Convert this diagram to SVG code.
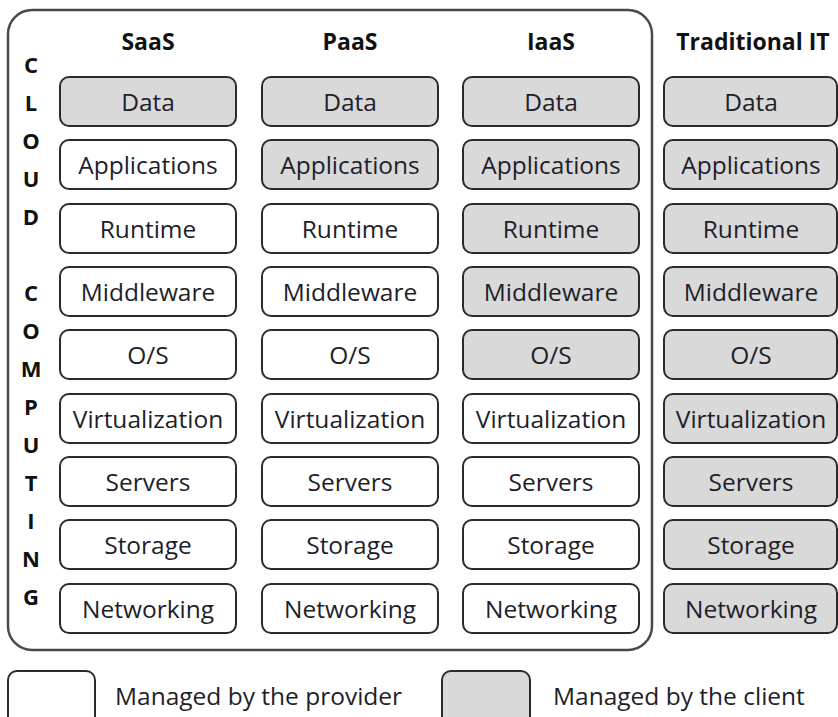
<svg xmlns="http://www.w3.org/2000/svg" width="838" height="717" viewBox="0 0 838 717">
<style>
.b{stroke:#2b2b2b;stroke-width:2;fill:#ffffff}
.g{fill:#d9d9d9}
.t{font-family:"Open Sans","Noto Sans",sans-serif;font-size:24.5px;fill:#1e1e2a;text-anchor:middle}
.h{font-family:"Open Sans","Noto Sans",sans-serif;font-size:23px;font-weight:bold;fill:#111;text-anchor:middle}
.v{font-family:"Open Sans","Noto Sans",sans-serif;font-size:22px;font-weight:bold;fill:#111;text-anchor:middle}
.l{font-family:"Open Sans","Noto Sans",sans-serif;font-size:24.5px;fill:#1e1e2a}
</style>
<rect width="838" height="717" fill="#ffffff"/>
<g id="cloud-frame">
<rect x="8" y="10" width="644" height="640" rx="24" fill="none" stroke="#4a4a4a" stroke-width="2.5"/>
</g>
<g id="vertical-label">
<text class="v" x="31" y="73">C</text>
<text class="v" x="31" y="111">L</text>
<text class="v" x="31" y="149">O</text>
<text class="v" x="31" y="187">U</text>
<text class="v" x="31" y="225">D</text>
<text class="v" x="31" y="301">C</text>
<text class="v" x="31" y="339">O</text>
<text class="v" x="31" y="377">M</text>
<text class="v" x="31" y="415">P</text>
<text class="v" x="31" y="453">U</text>
<text class="v" x="31" y="491">T</text>
<text class="v" x="31" y="529">I</text>
<text class="v" x="31" y="567">N</text>
<text class="v" x="31" y="605">G</text>
</g>
<g id="headers">
<text class="h" x="148" y="50">SaaS</text>
<text class="h" x="350" y="50">PaaS</text>
<text class="h" x="551" y="50">IaaS</text>
<text class="h" x="753" y="50">Traditional IT</text>
</g>
<g id="saas">
<rect class="b g" x="60" y="77" width="176" height="49" rx="9"/><text class="t" x="148" y="111">Data</text>
<rect class="b" x="60" y="140" width="176" height="49" rx="9"/><text class="t" x="148" y="174">Applications</text>
<rect class="b" x="60" y="204" width="176" height="49" rx="9"/><text class="t" x="148" y="238">Runtime</text>
<rect class="b" x="60" y="267" width="176" height="49" rx="9"/><text class="t" x="148" y="301">Middleware</text>
<rect class="b" x="60" y="330" width="176" height="49" rx="9"/><text class="t" x="148" y="364">O/S</text>
<rect class="b" x="60" y="394" width="176" height="49" rx="9"/><text class="t" x="148" y="428">Virtualization</text>
<rect class="b" x="60" y="457" width="176" height="49" rx="9"/><text class="t" x="148" y="491">Servers</text>
<rect class="b" x="60" y="520" width="176" height="49" rx="9"/><text class="t" x="148" y="554">Storage</text>
<rect class="b" x="60" y="584" width="176" height="49" rx="9"/><text class="t" x="148" y="618">Networking</text>
</g>
<g id="paas">
<rect class="b g" x="262" y="77" width="176" height="49" rx="9"/><text class="t" x="350" y="111">Data</text>
<rect class="b g" x="262" y="140" width="176" height="49" rx="9"/><text class="t" x="350" y="174">Applications</text>
<rect class="b" x="262" y="204" width="176" height="49" rx="9"/><text class="t" x="350" y="238">Runtime</text>
<rect class="b" x="262" y="267" width="176" height="49" rx="9"/><text class="t" x="350" y="301">Middleware</text>
<rect class="b" x="262" y="330" width="176" height="49" rx="9"/><text class="t" x="350" y="364">O/S</text>
<rect class="b" x="262" y="394" width="176" height="49" rx="9"/><text class="t" x="350" y="428">Virtualization</text>
<rect class="b" x="262" y="457" width="176" height="49" rx="9"/><text class="t" x="350" y="491">Servers</text>
<rect class="b" x="262" y="520" width="176" height="49" rx="9"/><text class="t" x="350" y="554">Storage</text>
<rect class="b" x="262" y="584" width="176" height="49" rx="9"/><text class="t" x="350" y="618">Networking</text>
</g>
<g id="iaas">
<rect class="b g" x="463" y="77" width="176" height="49" rx="9"/><text class="t" x="551" y="111">Data</text>
<rect class="b g" x="463" y="140" width="176" height="49" rx="9"/><text class="t" x="551" y="174">Applications</text>
<rect class="b g" x="463" y="204" width="176" height="49" rx="9"/><text class="t" x="551" y="238">Runtime</text>
<rect class="b g" x="463" y="267" width="176" height="49" rx="9"/><text class="t" x="551" y="301">Middleware</text>
<rect class="b g" x="463" y="330" width="176" height="49" rx="9"/><text class="t" x="551" y="364">O/S</text>
<rect class="b" x="463" y="394" width="176" height="49" rx="9"/><text class="t" x="551" y="428">Virtualization</text>
<rect class="b" x="463" y="457" width="176" height="49" rx="9"/><text class="t" x="551" y="491">Servers</text>
<rect class="b" x="463" y="520" width="176" height="49" rx="9"/><text class="t" x="551" y="554">Storage</text>
<rect class="b" x="463" y="584" width="176" height="49" rx="9"/><text class="t" x="551" y="618">Networking</text>
</g>
<g id="traditional-it">
<rect class="b g" x="664" y="77" width="173" height="49" rx="9"/><text class="t" x="751" y="111">Data</text>
<rect class="b g" x="664" y="140" width="173" height="49" rx="9"/><text class="t" x="751" y="174">Applications</text>
<rect class="b g" x="664" y="204" width="173" height="49" rx="9"/><text class="t" x="751" y="238">Runtime</text>
<rect class="b g" x="664" y="267" width="173" height="49" rx="9"/><text class="t" x="751" y="301">Middleware</text>
<rect class="b g" x="664" y="330" width="173" height="49" rx="9"/><text class="t" x="751" y="364">O/S</text>
<rect class="b g" x="664" y="394" width="173" height="49" rx="9"/><text class="t" x="751" y="428">Virtualization</text>
<rect class="b g" x="664" y="457" width="173" height="49" rx="9"/><text class="t" x="751" y="491">Servers</text>
<rect class="b g" x="664" y="520" width="173" height="49" rx="9"/><text class="t" x="751" y="554">Storage</text>
<rect class="b g" x="664" y="584" width="173" height="49" rx="9"/><text class="t" x="751" y="618">Networking</text>
</g>
<g id="legend">
<rect class="b" x="8" y="671" width="87" height="60" rx="9"/>
<text class="l" x="115" y="705">Managed by the provider</text>
<rect class="b g" x="442" y="671" width="88" height="60" rx="9"/>
<text class="l" x="553" y="705">Managed by the client</text>
</g>
</svg>
